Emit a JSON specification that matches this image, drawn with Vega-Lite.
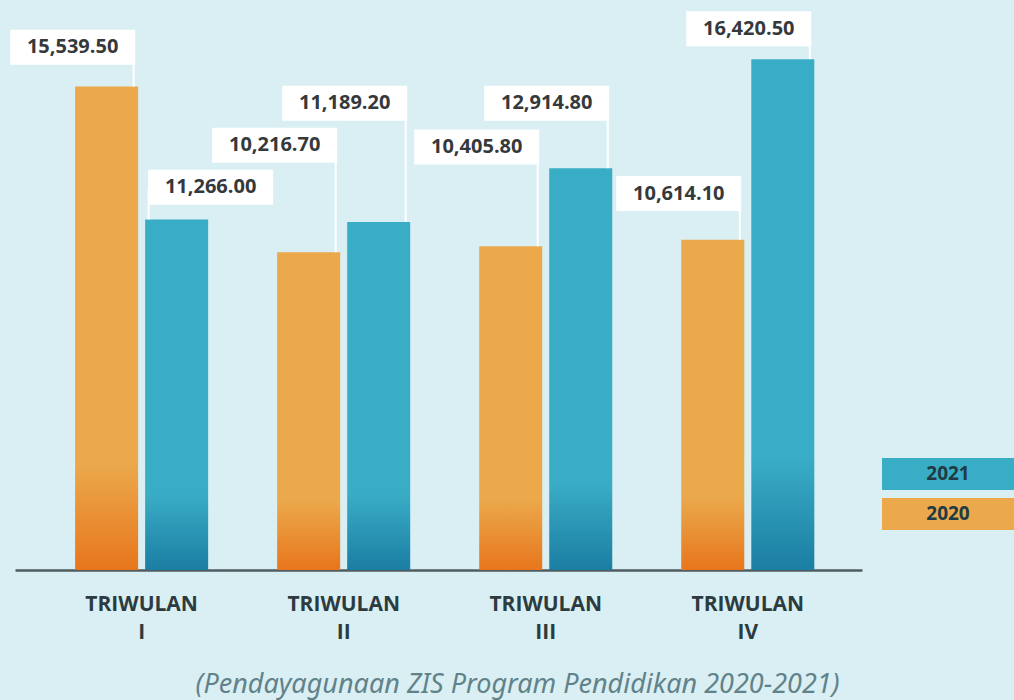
{
  "$schema": "https://vega.github.io/schema/vega-lite/v6.json",
  "width": 847,
  "height": 560,
  "padding": {"left": 10, "top": 10, "right": 0, "bottom": 2},
  "autosize": {"type": "pad"},
  "background": "#d9eff3",
  "config": {"view": {"stroke": null}, "font": "Open Sans"},
  "title": {
    "text": "(Pendayagunaan ZIS Program Pendidikan 2020-2021)",
    "orient": "bottom",
    "anchor": "middle",
    "dx": 79,
    "offset": 30,
    "font": "Noto Sans",
    "fontStyle": "italic",
    "fontWeight": "normal",
    "fontSize": 27,
    "color": "#62828a"
  },
  "data": {
    "values": [
      {"quarter": "I", "year": "2020", "value": 15539.5, "label_y": 16800},
      {"quarter": "I", "year": "2021", "value": 11266.0, "label_y": 12300},
      {"quarter": "II", "year": "2020", "value": 10216.7, "label_y": 13650},
      {"quarter": "II", "year": "2021", "value": 11189.2, "label_y": 15000},
      {"quarter": "III", "year": "2020", "value": 10405.8, "label_y": 13600},
      {"quarter": "III", "year": "2021", "value": 12914.8, "label_y": 15000},
      {"quarter": "IV", "year": "2020", "value": 10614.1, "label_y": 12100},
      {"quarter": "IV", "year": "2021", "value": 16420.5, "label_y": 17400}
    ]
  },
  "encoding": {
    "x": {
      "field": "quarter",
      "type": "nominal",
      "sort": ["I", "II", "III", "IV"],
      "scale": {"paddingInner": 0.32, "paddingOuter": 0.256, "align": 0.56},
      "axis": {
        "title": null,
        "labelAngle": 0,
        "ticks": false,
        "grid": false,
        "domainColor": "#4f5d61",
        "domainWidth": 2.5,
        "labelExpr": "['TRIWULAN', datum.label]",
        "labelFont": "Open Sans",
        "labelFontWeight": "bold",
        "labelFontSize": 21,
        "labelColor": "#2c3b40",
        "labelPadding": 23,
        "labelLineHeight": 28
      }
    }
  },
  "layer": [
    {
      "transform": [{"filter": "datum.year === '2020'"}],
      "mark": {
        "type": "bar",
        "fill": {
          "gradient": "linear", "x1": 0, "y1": 0, "x2": 0, "y2": 1,
          "stops": [
            {"offset": 0, "color": "#eba94c"},
            {"offset": 0.78, "color": "#eba94c"},
            {"offset": 1, "color": "#e8761c"}
          ]
        }
      },
      "encoding": {
        "xOffset": {"field": "year", "type": "nominal", "sort": ["2020", "2021"], "scale": {"domain": ["2020", "2021"], "paddingInner": 0.1, "paddingOuter": 0.031}},
        "y": {"field": "value", "type": "quantitative", "scale": {"domain": [0, 18000]}, "axis": null}
      }
    },
    {
      "transform": [{"filter": "datum.year === '2021'"}],
      "mark": {
        "type": "bar",
        "fill": {
          "gradient": "linear", "x1": 0, "y1": 0, "x2": 0, "y2": 1,
          "stops": [
            {"offset": 0, "color": "#3aadc6"},
            {"offset": 0.78, "color": "#3aadc6"},
            {"offset": 1, "color": "#1b7ea3"}
          ]
        }
      },
      "encoding": {
        "xOffset": {"field": "year", "type": "nominal", "sort": ["2020", "2021"], "scale": {"domain": ["2020", "2021"], "paddingInner": 0.1, "paddingOuter": 0.031}},
        "y": {"field": "value", "type": "quantitative", "scale": {"domain": [0, 18000]}, "axis": null}
      }
    },
    {
      "mark": {"type": "bar", "opacity": 0},
      "encoding": {
        "xOffset": {"field": "year", "type": "nominal", "sort": ["2020", "2021"], "scale": {"domain": ["2020", "2021"], "paddingInner": 0.1, "paddingOuter": 0.031}},
        "y": {"field": "value", "type": "quantitative", "scale": {"domain": [0, 18000]}, "axis": null},
        "color": {
          "field": "year",
          "type": "nominal",
          "scale": {"domain": ["2021", "2020"], "range": ["#3aadc6", "#eba94c"]},
          "legend": {
            "orient": "none",
            "legendX": 917,
            "legendY": 448,
            "title": null,
            "symbolType": "M-4.125,-1H4.125V1H-4.125Z",
            "symbolSize": 1024,
            "symbolOpacity": 1,
            "symbolStrokeWidth": 0,
            "labelAlign": "center",
            "labelOffset": -16,
            "labelFont": "Open Sans",
            "labelFontWeight": "bold",
            "labelFontSize": 19,
            "labelColor": "#1f3b44",
            "rowPadding": 8,
            "padding": 0
          }
        }
      }
    },
    {
      "mark": {
        "type": "rule",
        "stroke": "white",
        "strokeWidth": 2,
        "xOffset": {"expr": "datum.year === '2020' ? -8 : (datum.quarter === 'I' ? 7 : 62)"}
      },
      "encoding": {
        "y": {"field": "label_y", "type": "quantitative"},
        "y2": {"field": "value"}
      }
    },
    {
      "mark": {
        "type": "rect",
        "fill": "white",
        "width": 125,
        "height": 35,
        "xOffset": {"expr": "datum.year === '2020' ? -69 : (datum.quarter === 'I' ? 69 : 1)"}
      },
      "encoding": {
        "y": {"field": "label_y", "type": "quantitative"}
      }
    },
    {
      "mark": {
        "type": "text",
        "font": "Open Sans",
        "fontWeight": "bold",
        "fontSize": 20,
        "color": "#35393b",
        "align": "center",
        "baseline": "middle",
        "xOffset": {"expr": "datum.year === '2020' ? -69 : (datum.quarter === 'I' ? 69 : 1)"}
      },
      "encoding": {
        "y": {"field": "label_y", "type": "quantitative"},
        "text": {"field": "value", "type": "quantitative", "format": ",.2f"}
      }
    }
  ]
}
